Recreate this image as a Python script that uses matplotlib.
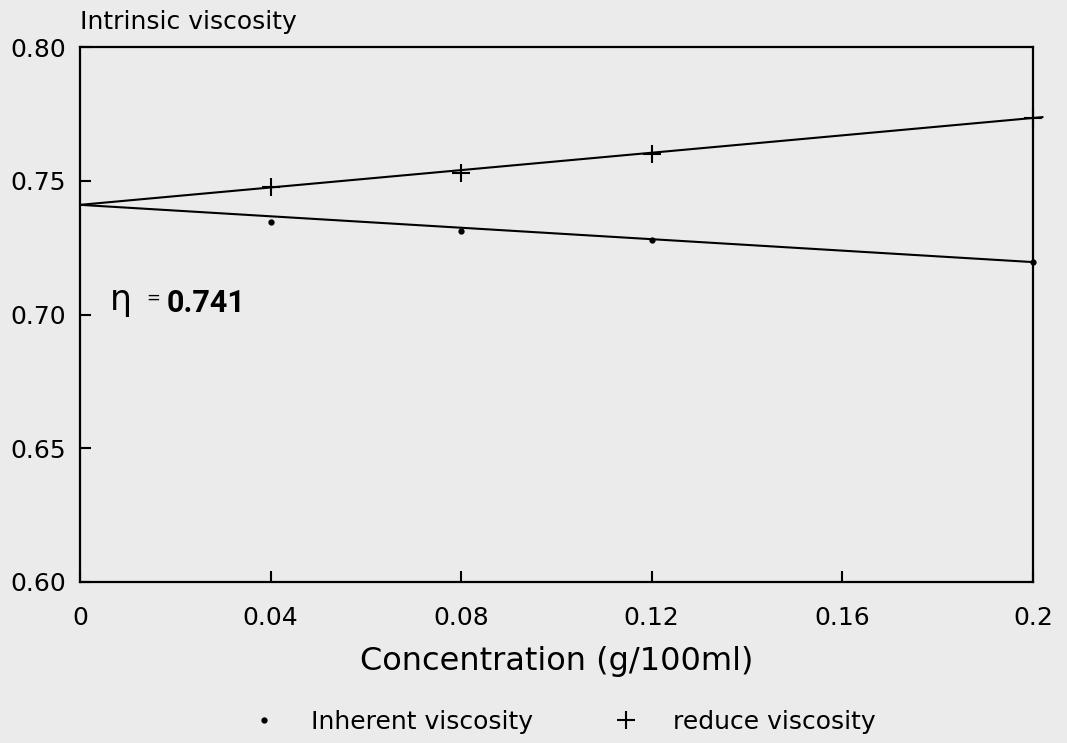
import matplotlib
matplotlib.use("Agg")
import matplotlib.pyplot as plt

# data
conc = [0.04, 0.08, 0.12, 0.20]
inherent = [0.7346, 0.7312, 0.7279, 0.7196]
reduced = [0.7477, 0.7529, 0.7600, 0.7735]

# fitted lines (extrapolated to zero concentration)
fit_x = [0.0, 0.2]
inherent_fit = [0.741, 0.7196]
reduced_fit_x = [0.0, 0.202]
reduced_fit = [0.741, 0.7738]

x_ticks = [0, 0.04, 0.08, 0.12, 0.16, 0.2]
x_labels = ["0", "0.04", "0.08", "0.12", "0.16", "0.2"]
y_ticks = [0.60, 0.65, 0.70, 0.75, 0.80]
y_labels = ["0.60", "0.65", "0.70", "0.75", "0.80"]

bg = "#ebebeb"
plt.rcParams["font.family"] = ["DejaVu Sans"]

fig = plt.figure(figsize=(10.67, 7.43), dpi=100, facecolor=bg)
ax = fig.add_axes([0.075, 0.2167, 0.893, 0.72])
ax.set_facecolor(bg)

ax.plot(fit_x, inherent_fit, color="black", lw=1.5)
ax.plot(reduced_fit_x, reduced_fit, color="black", lw=1.5, clip_on=False)
ax.plot(conc, inherent, ".", color="black", ms=7, label="Inherent viscosity", clip_on=False)
ax.plot(conc, reduced, "+", color="black", ms=13, mew=1.5, label="reduce viscosity", clip_on=False)

ax.set_xlim(0, 0.2)
ax.set_ylim(0.60, 0.80)
ax.set_xticks(x_ticks)
ax.set_xticklabels(x_labels)
ax.set_yticks(y_ticks)
ax.set_yticklabels(y_labels)
ax.tick_params(axis="x", direction="in", length=8, width=1.5, pad=17, labelsize=18)
ax.tick_params(axis="y", direction="in", length=8, width=1.5, pad=10, labelsize=18)
for s in ax.spines.values():
    s.set_linewidth(1.6)

ax.set_xlabel("Concentration (g/100ml)", fontsize=23, labelpad=12)
fig.text(80 / 1067, 1 - 22 / 743, "Intrinsic viscosity", fontsize=18, ha="left", va="center")

# intercept annotation
ax.text(0.031, 0.508, "\u03b7", transform=ax.transAxes, fontsize=25, va="baseline")
ax.text(0.069, 0.531, "=", transform=ax.transAxes, fontsize=12, va="center")
ax.text(0.091, 0.505, "0.741", transform=ax.transAxes, fontsize=22, fontweight="bold",
        family=["Roboto", "DejaVu Sans"], va="baseline")

fig.legend(loc="center", bbox_to_anchor=(0.528, 0.028), ncol=2, frameon=False,
           fontsize=18, handlelength=1, handletextpad=1.4, columnspacing=3.2)

fig.savefig("out.png", dpi=100, facecolor=bg)
